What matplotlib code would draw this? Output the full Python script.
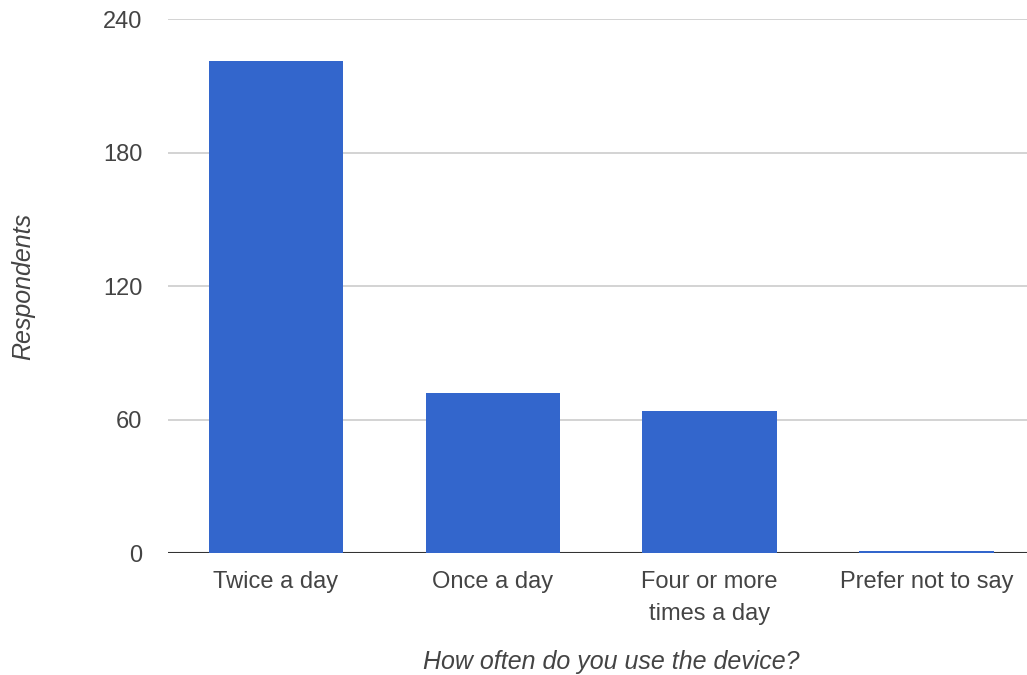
import matplotlib.pyplot as plt
import numpy as np

plt.rcParams['font.family'] = ['Liberation Sans', 'DejaVu Sans']

# Survey responses
categories = ['Twice a day', 'Once a day', 'Four or more\ntimes a day', 'Prefer not to say']
respondents = [221, 72, 64, 1]
yticks = [0, 60, 120, 180, 240]

bar_color = '#3366cc'
text_color = '#444444'

fig = plt.figure(figsize=(10.27, 6.75), dpi=100)
ax = fig.add_axes([0.1631, 0.1807, 0.8447, 0.7911])

x = np.arange(len(categories))
ax.bar(x, respondents, width=0.62, color=bar_color, zorder=3)

ax.set_xlim(-0.5, len(categories) - 0.5)
ax.set_ylim(0, 240)
ax.set_yticks(yticks)
ax.set_yticklabels([str(t) for t in yticks])
ax.set_xticks(x)
ax.set_xticklabels(categories, linespacing=1.6, va='top')

ax.grid(axis='y', color='#cccccc', linewidth=1.2, zorder=0)
ax.axhline(0, color='#333333', linewidth=1.5, zorder=2)
for s in ax.spines.values():
    s.set_visible(False)
ax.tick_params(axis='both', length=0, labelsize=17, labelcolor=text_color)
ax.tick_params(axis='y', pad=18)
ax.tick_params(axis='x', pad=13)

ax.set_ylabel('Respondents', fontstyle='italic', fontsize=18, color=text_color)
ax.set_xlabel('How often do you use the device?', fontstyle='italic', fontsize=18,
              color=text_color)
ax.yaxis.set_label_coords(-0.152, 0.5)
ax.xaxis.set_label_coords(0.511, -0.181)

fig.savefig('out.png', dpi=100)
